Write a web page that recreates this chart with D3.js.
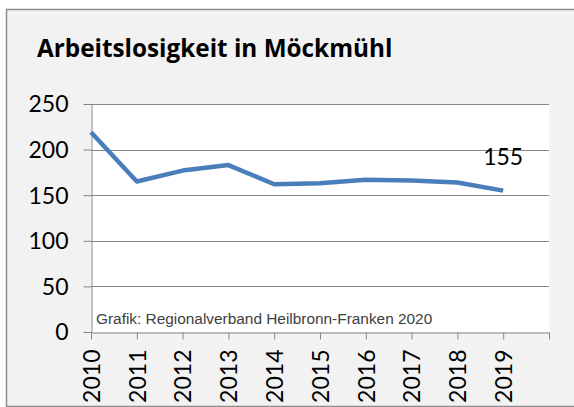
<!DOCTYPE html>
<html>
<head>
<meta charset="utf-8">
<title>Arbeitslosigkeit in Möckmühl</title>
<script src="https://cdn.jsdelivr.net/npm/d3@7"></script>
<style>
body { margin: 0; background: #fff; }
.grid line { stroke: #878787; stroke-width: 1px; }
.axis path, .axis line { stroke: #878787; }
.axis text { font-family: Lato, sans-serif; font-size: 23px; fill: #000; }
</style>
</head>
<body>
<svg width="574" height="407"></svg>
<script>

// data
var years = ["2010", "2011", "2012", "2013", "2014", "2015", "2016", "2017", "2018", "2019"];
var arbeitslose = [219, 165, 177, 183, 162, 163, 167, 166, 164, 155];
var yTicks = [0, 50, 100, 150, 200, 250];

var svg = d3.select("svg");

var plotLeft = 91, plotRight = 549, plotTop = 104, plotBottom = 332;

// chart background + border
svg.append("rect")
    .attr("x", 6.5).attr("y", 9.5)
    .attr("width", 580).attr("height", 397)
    .attr("fill", "#f2f2f2")
    .attr("stroke", "#8c8c8c")
    .attr("stroke-width", 1.5);

svg.append("rect")
    .attr("x", plotLeft).attr("y", plotTop)
    .attr("width", plotRight - plotLeft).attr("height", plotBottom - plotTop)
    .attr("fill", "#fff");

svg.append("text")
    .attr("x", 37).attr("y", 57)
    .attr("font-family", "'Open Sans', sans-serif")
    .attr("font-weight", "bold")
    .attr("font-size", 24.3)
    .text("Arbeitslosigkeit in Möckmühl");

// x runs over 11 ticks, points sit on the first 10
var x = d3.scaleLinear().domain([0, years.length]).range([plotLeft, plotRight]);
var y = d3.scaleLinear().domain([0, 250]).range([plotBottom, plotTop]);

svg.append("g")
    .attr("class", "grid")
  .selectAll("line")
  .data(yTicks.slice(1))
  .enter().append("line")
    .attr("x1", plotLeft).attr("x2", plotRight)
    .attr("y1", function(d) { return Math.round(y(d)) + 0.5; })
    .attr("y2", function(d) { return Math.round(y(d)) + 0.5; });

var yAxis = svg.append("g")
    .attr("class", "axis")
    .attr("transform", "translate(" + (plotLeft + 0.5) + ",0)")
    .call(d3.axisLeft(y).tickValues(yTicks).tickSize(8).tickPadding(15).tickSizeOuter(0));
yAxis.selectAll("text").attr("dy", "0.34em");

var xAxis = svg.append("g")
    .attr("class", "axis")
    .attr("transform", "translate(0," + (plotBottom + 0.5) + ")")
    .call(d3.axisBottom(x)
      .tickValues(d3.range(years.length + 1))
      .tickSize(7).tickSizeOuter(0)
      .tickFormat(function(i) { return years[i] || ""; }));
xAxis.selectAll("text")
    .attr("transform", "rotate(-90)")
    .attr("text-anchor", "end")
    .attr("x", -17)
    .attr("y", 0)
    .attr("dy", "0.36em");

svg.append("text")
    .attr("x", 96).attr("y", 324)
    .attr("font-family", "'Liberation Sans', Arial, sans-serif")
    .attr("font-size", 15.4)
    .attr("fill", "#404040")
    .text("Grafik: Regionalverband Heilbronn-Franken 2020");

var line = d3.line()
    .x(function(d, i) { return x(i); })
    .y(function(d) { return y(d); });

svg.append("path")
    .datum(arbeitslose)
    .attr("fill", "none")
    .attr("stroke", "#4a7ebb")
    .attr("stroke-width", 4.5)
    .attr("stroke-linejoin", "round")
    .attr("d", line);

var last = arbeitslose.length - 1;
svg.append("text")
    .attr("x", x(last)).attr("y", y(arbeitslose[last]) - 26)
    .attr("text-anchor", "middle")
    .attr("font-family", "Lato, sans-serif")
    .attr("font-size", 23)
    .text(arbeitslose[last]);

</script>
</body>
</html>
